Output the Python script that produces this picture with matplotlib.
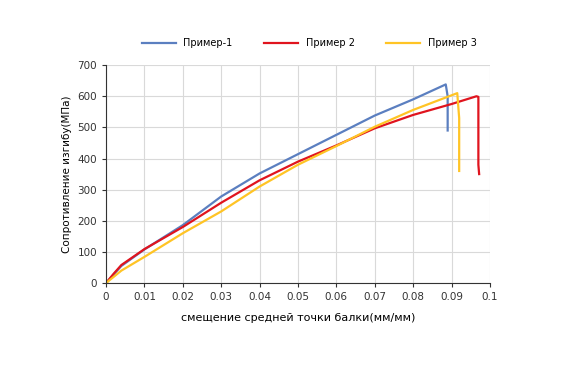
import numpy as np
import matplotlib.pyplot as plt

# Пример-1
x1 = [0, 0.002, 0.004, 0.01, 0.02, 0.03, 0.04, 0.05, 0.06, 0.07, 0.08, 0.0885, 0.089, 0.089]
y1 = [0, 28, 55, 108, 186, 278, 352, 414, 476, 538, 590, 638, 600, 490]
# Пример 2
x2 = [0, 0.002, 0.004, 0.01, 0.02, 0.03, 0.04, 0.05, 0.06, 0.07, 0.08, 0.09, 0.0965, 0.097, 0.097, 0.0972]
y2 = [0, 30, 58, 109, 180, 258, 330, 390, 442, 497, 540, 575, 600, 598, 380, 350]
# Пример 3
x3 = [0, 0.002, 0.004, 0.01, 0.02, 0.03, 0.04, 0.05, 0.06, 0.07, 0.08, 0.0915, 0.092, 0.092]
y3 = [0, 20, 40, 84, 160, 230, 310, 380, 440, 502, 556, 610, 530, 360]

labels = ['Пример-1', 'Пример 2', 'Пример 3']
colors = ['#5B7FC0', '#E0141E', '#FFC425']

plt.rcParams['font.family'] = 'DejaVu Sans'
fig = plt.figure(figsize=(5.67, 3.7), dpi=100)
ax = fig.add_axes([0.187, 0.235, 0.677, 0.589])
for x, y, lab, c in zip([x1, x2, x3], [y1, y2, y3], labels, colors):
    ax.plot(x, y, color=c, lw=1.6, label=lab)

ax.set_xlim(0, 0.1); ax.set_ylim(0, 700)
ax.set_xticks(np.arange(0, 0.101, 0.01))
ax.set_xticklabels(['0'] + [f'{v:.2f}' for v in np.arange(0.01, 0.095, 0.01)] + ['0.1'])
ax.set_yticks(range(0, 701, 100))
ax.grid(color='#d9d9d9', lw=0.8)
ax.set_axisbelow(True)
for s in ['top', 'right']:
    ax.spines[s].set_visible(False)
ax.spines['left'].set_color('#333333'); ax.spines['bottom'].set_color('#333333')
ax.tick_params(labelsize=7.5, colors='#333333', length=3, direction='out')
ax.set_xlabel('смещение средней точки балки(мм/мм)', fontsize=8, labelpad=8)
ax.set_ylabel('Сопротивление изгибу(МПа)', fontsize=7.5)
fig.legend(loc='upper center', bbox_to_anchor=(0.545, 0.92), ncol=3, frameon=False,
           fontsize=7, handlelength=3.5, columnspacing=3.2)
fig.savefig('out.png', dpi=100)
